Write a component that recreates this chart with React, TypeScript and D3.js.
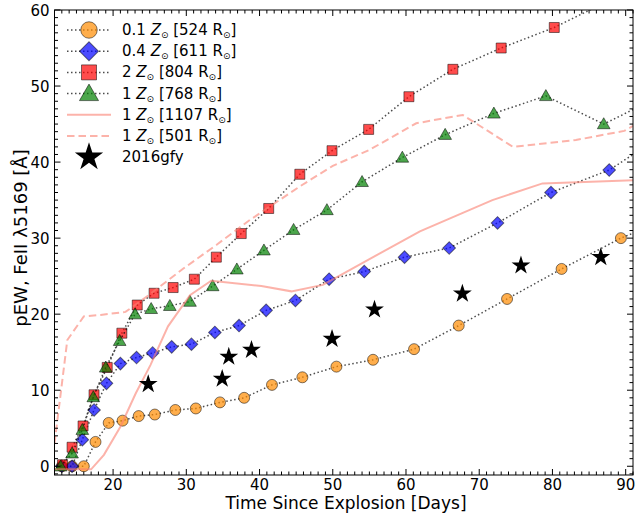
import React from "react";
import * as d3 from "d3";

const W = 638;
const H = 519;

type P = [number, number];

// 0.1 Zsun [524 Rsun]
const orangeData: P[] = [
  [13.0, 0], [14.4, 0], [16.0, 0], [17.6, 3.2], [19.4, 5.7], [21.3, 6.0], [23.5, 6.6], [25.7, 6.8],
  [28.5, 7.4], [31.3, 7.6], [34.6, 8.4], [37.9, 9.0], [41.7, 10.7], [45.85, 11.7], [50.5, 13.1],
  [55.5, 14.0], [61.1, 15.4], [67.2, 18.5], [73.8, 22.0], [81.25, 25.95], [89.35, 30.0], [96.0, 32.6],
];
// 0.4 Zsun [611 Rsun]
const blueData: P[] = [
  [13.0, 0], [14.4, 0], [15.8, 3.5], [17.4, 7.4], [19.1, 10.9], [21.0, 13.5], [23.2, 14.3], [25.4, 14.9],
  [28.0, 15.7], [30.7, 16.05], [33.9, 17.6], [37.2, 18.5], [40.9, 20.5], [44.9, 21.8], [49.5, 24.6],
  [54.3, 25.6], [59.8, 27.5], [65.9, 28.7], [72.5, 32.0], [79.8, 36.0], [87.75, 38.95], [95.0, 43.5],
];
// 2 Zsun [804 Rsun]
const redData: P[] = [
  [13.1, 0.2], [14.4, 2.5], [15.9, 5.3], [17.4, 9.4], [19.2, 13.0], [21.2, 17.5], [23.3, 21.2],
  [25.6, 22.75], [28.2, 23.5], [31.1, 24.6], [34.1, 27.5], [37.5, 30.6], [41.25, 33.9], [45.5, 38.4],
  [49.9, 41.5], [54.9, 44.3], [60.4, 48.6], [66.4, 52.2], [73.0, 55.0], [80.25, 57.7], [87.0, 60.9],
];
// 1 Zsun [768 Rsun]
const greenData: P[] = [
  [12.85, 0], [14.4, 1.7], [15.8, 4.8], [17.3, 9.1], [19.0, 13.0], [20.9, 16.5], [23.0, 20.0],
  [25.2, 20.7], [27.75, 21.1], [30.5, 21.65], [33.6, 23.7], [36.9, 25.9], [40.6, 28.4], [44.65, 31.1],
  [49.2, 33.7], [54.0, 37.4], [59.5, 40.6], [65.35, 43.6], [72.0, 46.4], [79.1, 48.7], [87.0, 45.0],
  [95.0, 48.8],
];
// 1 Zsun [1107 Rsun] (solid)
const solidData: P[] = [
  [12, -0.4], [17.0, -0.4], [18.75, 1.5], [21.0, 5.2], [23.1, 9.6], [25.1, 13.3], [27.5, 18.4],
  [30.5, 22.5], [33.4, 24.4], [40.25, 23.7], [44.35, 23.0], [48.65, 23.85], [52.3, 25.8],
  [61.9, 30.9], [71.8, 35.0], [78.65, 37.2], [92, 37.65],
];
// 1 Zsun [501 Rsun] (dashed)
const dashedData: P[] = [
  [12, 3.0], [13.75, 16.6], [16.0, 19.7], [18.3, 19.9], [21.7, 20.3], [25.0, 22.6], [29.6, 26.0],
  [34.1, 29.1], [38.7, 32.4], [45.5, 36.8], [50.0, 39.5], [55.0, 41.6], [61.4, 45.1], [67.75, 46.2],
  [74.6, 42.0], [83.2, 42.9], [89.8, 44.1], [92, 45.3],
];
// 2016gfy
const starData: P[] = [
  [24.8, 10.8], [34.9, 11.5], [35.8, 14.4], [38.9, 15.3], [49.9, 16.75], [55.7, 20.6],
  [67.7, 22.7], [75.7, 26.4], [86.6, 27.5],
];

const xTicks = [20, 30, 40, 50, 60, 70, 80, 90];
const yTicks = [0, 10, 20, 30, 40, 50, 60];

const legendLabels = [
  { pre: "0.1 ", post: " [524 R" },
  { pre: "0.4 ", post: " [611 R" },
  { pre: "2 ", post: " [804 R" },
  { pre: "1 ", post: " [768 R" },
  { pre: "1 ", post: " [1107 R" },
  { pre: "1 ", post: " [501 R" },
];

const ML = 54.5, MR = 633, MT = 10, MB = 475;
const x = d3.scaleLinear().domain([12, 91]).range([ML, MR]);
const y = d3.scaleLinear().domain([-1.15, 60]).range([MB, MT]);

const FONT = "DejaVu Sans";
const dotLine = d3.line<P>().x((d) => x(d[0])).y((d) => y(d[1]));

type Kind = "circle" | "diamond" | "square" | "triangle" | "star";

function markerPath(kind: Kind, s: number): string {
  const map: Record<Kind, d3.SymbolType> = {
    circle: d3.symbolCircle,
    diamond: d3.symbolSquare,
    square: d3.symbolSquare,
    triangle: d3.symbolTriangle,
    star: d3.symbolStar,
  };
  return d3.symbol().type(map[kind]).size(s)()!;
}

function Marker({ kind, cx, cy, fill, scale = 1 }: { kind: Kind; cx: number; cy: number; fill: string; scale?: number }) {
  let size = 95;
  let rot = 0;
  let dy = 0;
  if (kind === "circle") size = 95;
  if (kind === "diamond") { size = 80; rot = 45; }
  if (kind === "square") size = 100;
  if (kind === "triangle") { size = 70; dy = 1; }
  if (kind === "star") size = 110;
  const p = markerPath(kind, size * scale * scale);
  if (kind === "star") {
    return <path d={p} transform={`translate(${cx},${cy})`} fill="#000" />;
  }
  return (
    <path
      d={p}
      transform={`translate(${cx},${cy + dy * scale}) rotate(${rot})`}
      fill={fill}
      fillOpacity={0.7}
      stroke="#000"
      strokeOpacity={0.5}
      strokeWidth={1}
    />
  );
}

const series: { data: P[]; kind: Kind; color: string }[] = [
  { data: orangeData, kind: "circle", color: "#ff8c00" },
  { data: blueData, kind: "diamond", color: "#0000ff" },
  { data: redData, kind: "square", color: "#ff0000" },
  { data: greenData, kind: "triangle", color: "#008000" },
];

const SALMON = "#fa8072";

export default function App() {
  const minorX = d3.range(13, 92, 1).filter((v) => v % 10 !== 0);
  const minorY = d3.range(-1, 61, 1).filter((v) => v % 10 !== 0);
  const legendX = 89;
  const legendY0 = 30;
  const legendDY = 21.2;
  return (
    <svg width={W} height={H} style={{ display: "block", position: "absolute", left: 0, top: 0 }} fontFamily={FONT}>
      <defs>
        <clipPath id="plotClip">
          <rect x={ML} y={MT} width={MR - ML} height={MB - MT} />
        </clipPath>
      </defs>
      <rect width={W} height={H} fill="#fff" />
      <g clipPath="url(#plotClip)">
        {series.map((s, i) => (
          <g key={i}>
            <path d={dotLine(s.data)!} fill="none" stroke="#000" strokeOpacity={0.7} strokeWidth={1.5} strokeDasharray="1.5 2.5" />
            {s.data.map((d, j) => (
              <Marker key={j} kind={s.kind} cx={x(d[0])} cy={y(d[1])} fill={s.color} />
            ))}
          </g>
        ))}
        <path d={dotLine(solidData)!} fill="none" stroke={SALMON} strokeOpacity={0.6} strokeWidth={2} />
        <path d={dotLine(dashedData)!} fill="none" stroke={SALMON} strokeOpacity={0.6} strokeWidth={2} strokeDasharray="7.5 4" />
        {starData.map((d, j) => (
          <Marker key={j} kind="star" cx={x(d[0])} cy={y(d[1])} fill="#000" />
        ))}
      </g>
      {/* frame */}
      <rect x={ML} y={MT} width={MR - ML} height={MB - MT} fill="none" stroke="#000" strokeWidth={1} />
      {/* ticks */}
      {xTicks.map((t) => (
        <g key={"xt" + t}>
          <line x1={x(t)} x2={x(t)} y1={MB} y2={MB - 6} stroke="#000" />
          <line x1={x(t)} x2={x(t)} y1={MT} y2={MT + 6} stroke="#000" />
          <text x={x(t)} y={MB + 15} textAnchor="middle" fontSize={15}>{t}</text>
        </g>
      ))}
      {minorX.map((t) => (
        <g key={"xm" + t}>
          <line x1={x(t)} x2={x(t)} y1={MB} y2={MB - 3.5} stroke="#000" />
          <line x1={x(t)} x2={x(t)} y1={MT} y2={MT + 3.5} stroke="#000" />
        </g>
      ))}
      {yTicks.map((t) => (
        <g key={"yt" + t}>
          <line x1={ML} x2={ML + 6} y1={y(t)} y2={y(t)} stroke="#000" />
          <line x1={MR} x2={MR - 6} y1={y(t)} y2={y(t)} stroke="#000" />
          <text x={ML - 5} y={y(t) + 5.5} textAnchor="end" fontSize={15}>{t}</text>
        </g>
      ))}
      {minorY.map((t) => (
        <g key={"ym" + t}>
          <line x1={ML} x2={ML + 3.5} y1={y(t)} y2={y(t)} stroke="#000" />
          <line x1={MR} x2={MR - 3.5} y1={y(t)} y2={y(t)} stroke="#000" />
        </g>
      ))}
      {/* axis labels */}
      <text x={346} y={508.5} textAnchor="middle" fontSize={17}>Time Since Explosion [Days]</text>
      <text transform={`translate(26.5,238) rotate(-90)`} textAnchor="middle" fontSize={18}>pEW, FeII λ5169 [Å]</text>
      {/* legend */}
      {series.map((s, i) => (
        <g key={"lg" + i}>
          <line x1={legendX - 22} x2={legendX + 22} y1={legendY0 + i * legendDY} y2={legendY0 + i * legendDY} stroke="#000" strokeOpacity={0.7} strokeWidth={1.5} strokeDasharray="1.5 2.5" />
          <Marker kind={s.kind} cx={legendX} cy={legendY0 + i * legendDY} fill={s.color} scale={1.5} />
        </g>
      ))}
      <line x1={legendX - 22} x2={legendX + 22} y1={legendY0 + 4 * legendDY} y2={legendY0 + 4 * legendDY} stroke={SALMON} strokeOpacity={0.6} strokeWidth={2} />
      <line x1={legendX - 22} x2={legendX + 22} y1={legendY0 + 5 * legendDY} y2={legendY0 + 5 * legendDY} stroke={SALMON} strokeOpacity={0.6} strokeWidth={2} strokeDasharray="7.5 4" />
      <Marker kind="star" cx={legendX} cy={legendY0 + 6 * legendDY} fill="#000" scale={1.5} />
      {legendLabels.map((l, i) => (
        <text key={"lt" + i} x={122} y={legendY0 + i * legendDY + 5} fontSize={15}>
          {l.pre}
          <tspan fontStyle="italic">Z</tspan>
          <tspan fontSize={9} dy={3}>⊙</tspan>
          <tspan dy={-3}>{l.post}</tspan>
          <tspan fontSize={9} dy={3}>⊙</tspan>
          <tspan dy={-3}>]</tspan>
        </text>
      ))}
      <text x={122} y={legendY0 + 6 * legendDY + 5} fontSize={15}>2016gfy</text>
    </svg>
  );
}
